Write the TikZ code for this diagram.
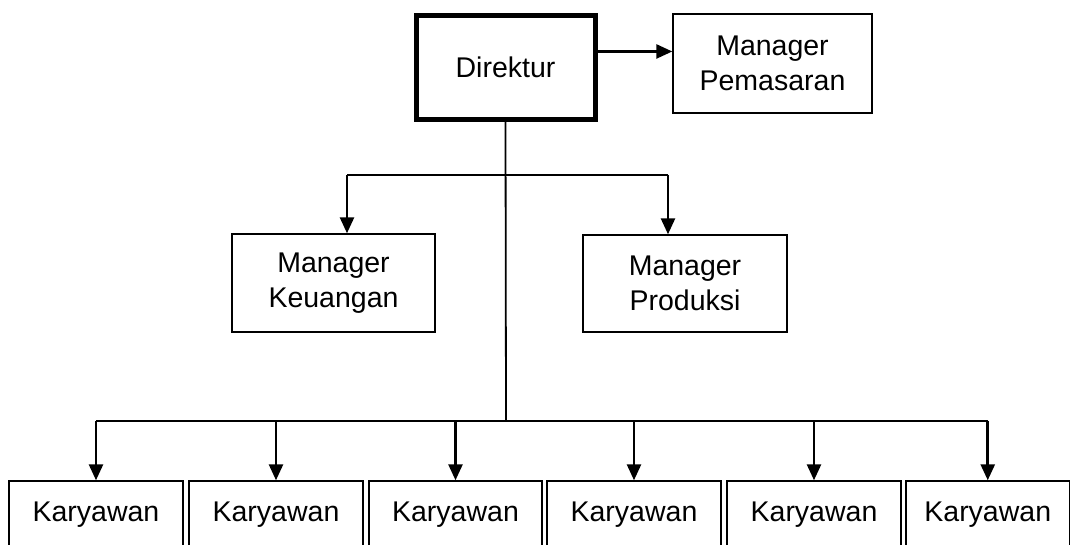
\documentclass[tikz,border=0pt]{standalone}
\usepackage{fontspec}
\setmainfont{Liberation Sans}
\usetikzlibrary{arrows.meta,positioning,calc}

\tikzset{
    box/.style={draw, line width=1.4pt, inner sep=0pt, align=center, font=\fontsize{28.5}{35}\selectfont},
    twobox/.style={box, execute at begin node={\rule{0pt}{28pt}}},
    bossbox/.style={box, line width=5pt},
    link/.style={line width=1.8pt},
    arrowlink/.style={line width=2.6pt, -{Triangle[length=16pt,width=14pt]}}
}

\begin{document}
\begin{tikzpicture}[x=1pt, y=-1pt]
    \clip (0,0) rectangle (1070,545);

    % Top
    \node[bossbox, minimum width=179, minimum height=103.5] (dir) at (505.5,67.75) {Direktur};
    \node[twobox, minimum width=199, minimum height=99] (pem) at (772.5,63.5) {Manager\\Pemasaran};

    % Managers
    \node[twobox, minimum width=203, minimum height=98] (keu) at (333.5,283) {Manager\\Keuangan};
    \node[twobox, minimum width=204, minimum height=97] (prod) at (685,283.5) {Manager\\Produksi};

    % Karyawan
    \foreach \name/\cx/\w in {k1/96/174, k2/276/174, k3/455.5/173, k4/634/174, k5/814/174, k6/987.75/163.5}
        \node[box, minimum width=\w, minimum height=67] (\name) at (\cx,514.5) {Karyawan};

    % Connectors
    \coordinate (midbus) at (506,175);
    \coordinate (lowbus) at (506,421);
    \coordinate (dirout) at ($(dir.north east)!0.35!(dir.south east)$);
    \coordinate (keuin) at ([xshift=13.5pt]keu.north);
    \coordinate (prodin) at ([xshift=-17pt]prod.north);

    \draw[arrowlink] (dirout) -- (dirout -| pem.west);
    \draw[link] (dir.south) -- (lowbus);

    \draw[link] (keuin |- midbus) -- (prodin |- midbus);
    \draw[arrowlink] (keuin |- midbus) -- (keuin);
    \draw[arrowlink] (prodin |- midbus) -- (prodin);

    \draw[link] (k1.north |- lowbus) -- (k6.north |- lowbus);
    \foreach \name in {k1,k2,k3,k4,k5,k6}
        \draw[arrowlink] (\name.north |- lowbus) -- (\name.north);
\end{tikzpicture}
\end{document}
